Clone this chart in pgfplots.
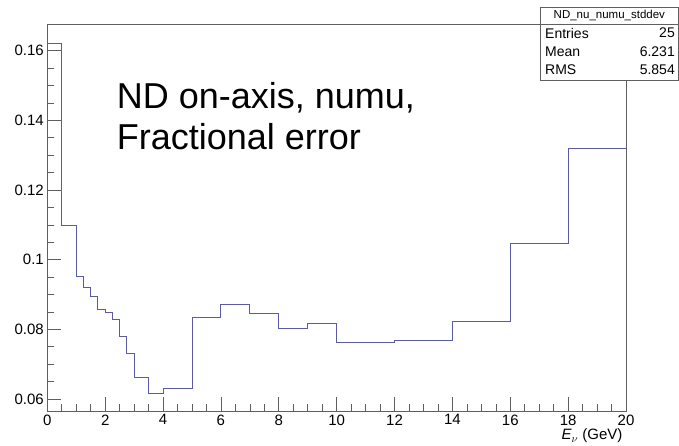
\documentclass[border=0pt]{standalone}
\usepackage{fontspec}
\setmainfont{Liberation Sans}
\usepackage{pgfplots}
\pgfplotsset{compat=1.18}
\definecolor{histline}{RGB}{90,90,165}
\definecolor{framecol}{RGB}{95,95,95}
\pgfplotstableread{
x y
0 0.1621
0.5 0.1097
1 0.0953
1.25 0.0919
1.5 0.0893
1.75 0.0858
2 0.0848
2.25 0.0829
2.5 0.0781
2.75 0.0732
3 0.0662
3.5 0.0615
4 0.0629
5 0.0835
6 0.0872
7 0.0846
8 0.0803
9 0.0817
10 0.0763
12 0.0769
14 0.0823
16 0.1047
18 0.1319
20 0.1319
}\histdata
\begin{document}
\begin{tikzpicture}[x=1pt,y=1pt]
\useasboundingbox (0,0) rectangle (679,445);
\begin{axis}[
  at={(47.3pt,34pt)}, anchor=south west,
  scale only axis, width=578.7pt, height=387pt,
  xmin=0, xmax=20, ymin=0.05655, ymax=0.16767,
  xtick={0,2,4,6,8,10,12,14,16,18,20}, minor x tick num=3,
  ytick={0.06,0.08,0.1,0.12,0.14,0.16}, minor y tick num=3,
  tick align=inside, xtick pos=left, ytick pos=left,
  axis line style={framecol, line width=0.8pt},
  every tick/.style={framecol, line width=0.6pt},
  major tick length=14pt, minor tick length=7pt,
  tick label style={font=\fontsize{15}{15}\selectfont},
  /pgf/number format/assume math mode=true,
  scaled y ticks=false,
  yticklabel style={/pgf/number format/fixed, /pgf/number format/precision=2},
  xlabel={\textit{E}$_{\nu}$ (GeV)},
  every axis x label/.style={at={(rel axis cs:1,0)}, anchor=north east, yshift=-14.5pt, font=\fontsize{15}{15}\selectfont},
]
\addplot[const plot, histline, line width=0.9pt] table[x=x,y=y] {\histdata};
\end{axis}
\node[anchor=base west, font=\fontsize{36}{36}\selectfont, inner sep=0pt] at (116.7,336) {ND on-axis, numu,};
\node[anchor=base west, font=\fontsize{36}{36}\selectfont, inner sep=0pt] at (116.7,295) {Fractional error};
\draw[framecol, line width=0.6pt, fill=white] (540.7,365) rectangle (678,437.7);
\draw[framecol, line width=0.6pt] (540.7,421) -- (678,421);
\node[font=\fontsize{11.5}{11.5}\selectfont, inner sep=0pt] at (609.35,429.3) {ND\_nu\_numu\_stddev};
\node[anchor=west, font=\fontsize{14}{14}\selectfont, inner sep=0pt] at (545,412) {Entries};
\node[anchor=east, font=\fontsize{14}{14}\selectfont, inner sep=0pt] at (675,412) {25};
\node[anchor=west, font=\fontsize{14}{14}\selectfont, inner sep=0pt] at (545,393.5) {Mean};
\node[anchor=east, font=\fontsize{14}{14}\selectfont, inner sep=0pt] at (675,393.5) {6.231};
\node[anchor=west, font=\fontsize{14}{14}\selectfont, inner sep=0pt] at (545,375) {RMS};
\node[anchor=east, font=\fontsize{14}{14}\selectfont, inner sep=0pt] at (675,375) {5.854};
\end{tikzpicture}
\end{document}
